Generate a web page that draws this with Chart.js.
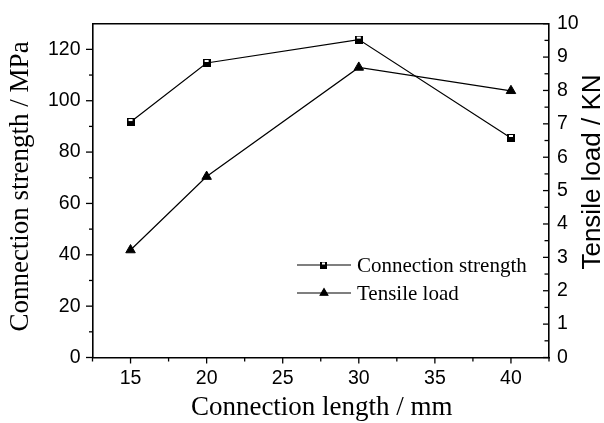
<!DOCTYPE html>
<html><head><meta charset="utf-8">
<script src="https://cdn.jsdelivr.net/npm/chart.js@4/dist/chart.umd.min.js"></script>
<style>html,body{margin:0;padding:0;background:#fff}#wrap{width:604px;height:423px;position:relative}</style>
</head><body><div id="wrap"><canvas id="c"></canvas></div>
<script>
// ---- data ----
const lengths = [15, 20, 30, 40];
const strength = [91.7, 114.7, 123.8, 85.5];
const load = [3.22, 5.42, 8.69, 7.99];
const seriesNames = ['Connection strength', 'Tensile load'];
const xTicks = [15, 20, 25, 30, 35, 40];
const xMinor = [12.5, 17.5, 22.5, 27.5, 32.5, 37.5, 42.5];
const leftTicks = [0, 20, 40, 60, 80, 100, 120];
const leftMinor = [10, 30, 50, 70, 90, 110];
const rightTicks = [0, 1, 2, 3, 4, 5, 6, 7, 8, 9, 10];
const rightMinor = [0.5, 1.5, 2.5, 3.5, 4.5, 5.5, 6.5, 7.5, 8.5, 9.5];
const xTitle = 'Connection length / mm';
const yTitle = 'Connection strength / MPa';
const y1Title = 'Tensile load / KN';

const SANS = "'Liberation Sans', Arial, sans-serif";
const SERIF = "'Liberation Serif', 'Times New Roman', serif";

function squareMarker(n) {
  const c = document.createElement('canvas'); c.width = n; c.height = n;
  const g = c.getContext('2d');
  g.fillStyle = '#000'; g.fillRect(0, 0, n, n);
  g.fillStyle = '#fff'; g.fillRect(2, 1, n - 4, n > 6 ? 2 : 1);
  return c;
}
const sqBig = squareMarker(8);
const sqSmall = squareMarker(7);

const decor = {
  id: 'decor',
  afterDraw(chart) {
    const { ctx, chartArea: a, scales } = chart;
    ctx.save();
    ctx.strokeStyle = '#000';
    ctx.fillStyle = '#000';
    // top frame line
    ctx.lineWidth = 1.4;
    ctx.beginPath(); ctx.moveTo(a.left, a.top); ctx.lineTo(a.right, a.top); ctx.stroke();
    // ticks
    ctx.lineWidth = 1.3;
    const tick = (x1, y1, x2, y2) => { ctx.beginPath(); ctx.moveTo(x1, y1); ctx.lineTo(x2, y2); ctx.stroke(); };
    leftTicks.forEach(v => { const y = scales.y.getPixelForValue(v); tick(a.left, y, a.left - 6.5, y); });
    leftMinor.forEach(v => { const y = scales.y.getPixelForValue(v); tick(a.left, y, a.left - 3.5, y); });
    rightTicks.forEach(v => { const y = scales.y1.getPixelForValue(v); tick(a.right, y, a.right - 6, y); });
    rightMinor.forEach(v => { const y = scales.y1.getPixelForValue(v); tick(a.right, y, a.right - 4.5, y); });
    xTicks.forEach(v => { const x = scales.x.getPixelForValue(v); tick(x, a.bottom, x, a.bottom + 6); });
    xMinor.forEach(v => { const x = scales.x.getPixelForValue(v); tick(x, a.bottom, x, a.bottom + 4); });
    // titles
    ctx.textAlign = 'center'; ctx.textBaseline = 'alphabetic';
    ctx.font = '27px ' + SERIF;
    ctx.fillText(xTitle, (a.left + a.right) / 2 + 1, 414.5);
    ctx.save(); ctx.translate(28, 186.5); ctx.rotate(-Math.PI / 2); ctx.fillText(yTitle, 0, 0); ctx.restore();
    ctx.font = '26px ' + SANS;
    ctx.save(); ctx.translate(600, 172); ctx.rotate(-Math.PI / 2); ctx.fillText(y1Title, 0, 0); ctx.restore();
    // legend
    const rows = [265, 293];
    ctx.lineWidth = 1.1;
    rows.forEach((ry, i) => {
      tick(297, ry, 351, ry);
      if (i === 0) {
        ctx.drawImage(sqSmall, 320, ry - 3.5);
      } else {
        Chart.helpers.drawPoint(ctx, { pointStyle: 'triangle', radius: 4.5, borderWidth: 1, rotation: 0 }, 324, ry);
        ctx.fill();
      }
      ctx.font = '21px ' + SERIF; ctx.textAlign = 'left'; ctx.textBaseline = 'middle';
      ctx.fillText(seriesNames[i], 357, ry + 1);
    });
    ctx.restore();
  }
};

const tickFont = { family: SANS, size: 19.5 };

new Chart(document.getElementById('c'), {
  type: 'line',
  data: {
    datasets: [
      {
        label: seriesNames[0],
        data: lengths.map((x, i) => ({ x, y: strength[i] })),
        yAxisID: 'y',
        borderColor: '#000', borderWidth: 1.2,
        pointStyle: sqBig, pointRadius: 4,
        pointBackgroundColor: '#000', pointBorderColor: '#000',
        tension: 0, fill: false
      },
      {
        label: seriesNames[1],
        data: lengths.map((x, i) => ({ x, y: load[i] })),
        yAxisID: 'y1',
        borderColor: '#000', borderWidth: 1.2,
        pointStyle: 'triangle', pointRadius: 5.5, pointBorderWidth: 1,
        pointBackgroundColor: '#000', pointBorderColor: '#000',
        tension: 0, fill: false
      }
    ]
  },
  options: {
    responsive: true, maintainAspectRatio: false, animation: false, devicePixelRatio: 1,
    layout: { padding: { top: 15, left: 0, right: 0, bottom: 0 } },
    plugins: { legend: { display: false }, tooltip: { enabled: false } },
    scales: {
      x: {
        type: 'linear', min: 12.5, max: 42.5,
        afterBuildTicks: s => { s.ticks = xTicks.map(v => ({ value: v })); },
        afterFit: s => { s.height = 65.5; },
        grid: { display: false, drawTicks: false },
        border: { display: true, color: '#000', width: 1.6 },
        ticks: { font: tickFont, color: '#000', padding: 9, maxRotation: 0, autoSkip: false }
      },
      y: {
        type: 'linear', position: 'left', min: 0, max: 130,
        afterBuildTicks: s => { s.ticks = leftTicks.map(v => ({ value: v })); },
        afterFit: s => { s.width = 92.5; },
        grid: { display: false, drawTicks: false },
        border: { display: true, color: '#000', width: 1.6 },
        ticks: { font: tickFont, color: '#000', padding: 12 }
      },
      y1: {
        type: 'linear', position: 'right', min: 0, max: 10,
        afterBuildTicks: s => { s.ticks = rightTicks.map(v => ({ value: v })); },
        afterFit: s => { s.width = 55; },
        grid: { display: false, drawTicks: false },
        border: { display: true, color: '#000', width: 1.6 },
        ticks: { font: tickFont, color: '#000', padding: 8 }
      }
    }
  },
  plugins: [decor]
});
</script>
</body></html>
